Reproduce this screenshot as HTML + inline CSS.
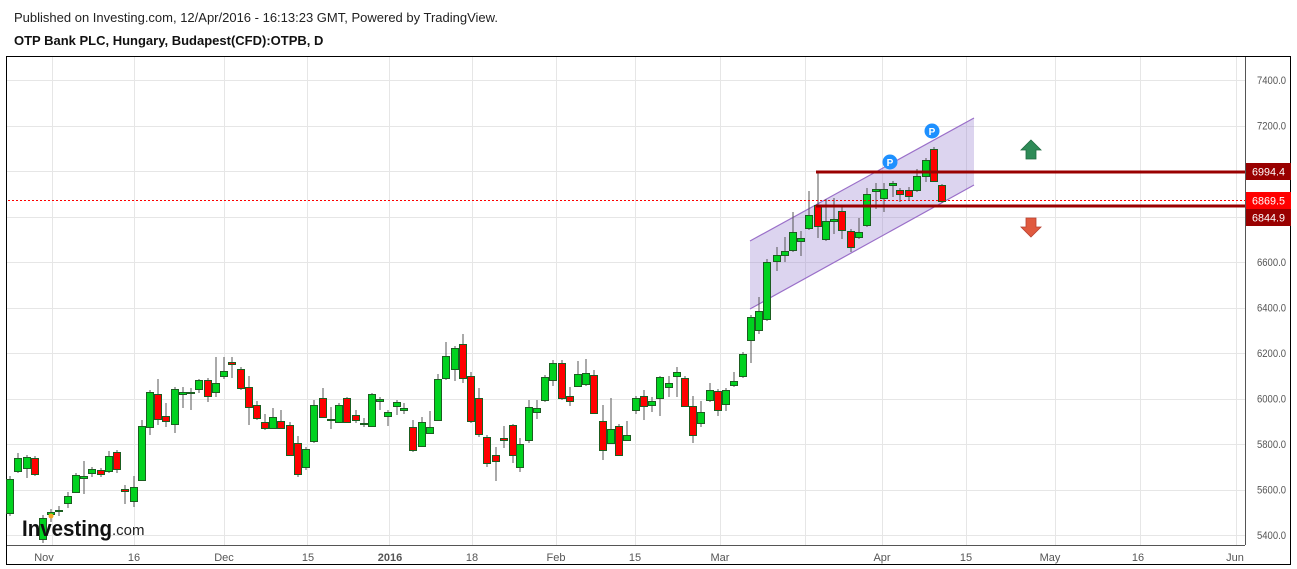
<!DOCTYPE html>
<html><head><meta charset="utf-8"><style>
html,body{margin:0;padding:0;background:#fff;width:1297px;height:569px;overflow:hidden;font-family:"Liberation Sans",sans-serif}
svg{position:absolute;left:0;top:0}
</style></head><body>
<svg id="s" width="1297" height="569" xmlns="http://www.w3.org/2000/svg" font-family="Liberation Sans, sans-serif">
<text x="14" y="22" font-size="13" fill="#222">Published on Investing.com, 12/Apr/2016 - 16:13:23 GMT, Powered by TradingView.</text>
<text x="14" y="45" font-size="13" font-weight="bold" fill="#111">OTP Bank PLC, Hungary, Budapest(CFD):OTPB, D</text>
<rect x="6.5" y="56.5" width="1284" height="508" fill="#fff" stroke="#000" stroke-width="1"/>
<g id="grid" stroke="#e6e6e6" stroke-width="1"></g>
<g id="chan"></g>
<g id="c"></g>
<g id="ov"></g>
</svg>
<script>
var NS="http://www.w3.org/2000/svg";
function el(p,t,a,txt){var e=document.createElementNS(NS,t);for(var k in a)e.setAttribute(k,a[k]);if(txt!==undefined)e.textContent=txt;document.getElementById(p).appendChild(e);return e;}
function Y(p){return 80+(7400-p)*0.2275;}
var vx=[52,134,224,307,389,472,556,635,720,805,882,966,1055,1140,1236];
vx.forEach(function(x){el('grid','line',{x1:x+.5,y1:57,x2:x+.5,y2:545});});
for(var p=5400;p<=7400;p+=200){var y=Math.round(Y(p))+.5;el('grid','line',{x1:7,y1:y,x2:1245,y2:y});}
el('ov','line',{x1:7,y1:545.5,x2:1245,y2:545.5,stroke:'#555'});
el('ov','line',{x1:1245.5,y1:57,x2:1245.5,y2:545,stroke:'#555'});
var xl=[[44,'Nov'],[134,'16'],[224,'Dec'],[308,'15'],[390,'2016'],[472,'18'],[556,'Feb'],[635,'15'],[720,'Mar'],[882,'Apr'],[966,'15'],[1050,'May'],[1138,'16'],[1235,'Jun']];
el('chan','polygon',{points:'750,309 974,185 974,118 750,241',fill:'rgba(150,125,205,0.33)'});
el('chan','line',{x1:750,y1:241,x2:974,y2:118,stroke:'#9a6fc9','stroke-width':1.2});
el('chan','line',{x1:750,y1:309,x2:974,y2:185,stroke:'#9a6fc9','stroke-width':1.2});
var C=[
[10,479,513,476,516,'g'],[18,458,471,453,473,'g'],[27,457,468,455,478,'g'],[35,458,474,456,476,'r'],[43,518,539,515,543,'g'],
[51,512,514,509,522,'g'],[59,510,511,506,516,'g'],[68,496,503,492,508,'g'],[76,475,492,473,493,'g'],[84,476,478,461,494,'g'],
[92,469,473,467,477,'g'],[101,470,474,468,477,'r'],[109,456,471,451,473,'g'],[117,452,469,450,473,'r'],[125,489,491,485,504,'r'],
[134,487,501,476,507,'g'],[142,426,480,420,481,'g'],[150,392,427,390,435,'g'],[158,394,419,379,425,'r'],[166,416,421,403,427,'r'],
[175,389,424,387,433,'g'],[183,392,394,387,408,'g'],[191,392,393,388,410,'g'],[199,380,389,379,393,'g'],[208,380,396,378,402,'r'],
[216,383,392,357,397,'g'],[224,371,376,357,379,'g'],[232,362,364,357,378,'r'],[241,369,388,367,390,'r'],[249,387,407,376,425,'r'],
[257,405,418,401,420,'r'],[265,422,428,414,430,'r'],[273,417,428,408,429,'g'],[281,421,428,410,429,'r'],[290,425,455,422,456,'r'],
[298,443,474,436,477,'r'],[306,449,467,447,470,'g'],[314,405,441,400,443,'g'],[323,398,417,388,418,'r'],[331,419,420,407,429,'g'],
[339,405,422,403,423,'g'],[347,398,422,397,423,'r'],[356,415,420,410,423,'r'],[364,423,424,418,427,'g'],[372,394,426,393,427,'g'],
[380,399,401,397,410,'g'],[388,412,416,410,426,'g'],[397,402,406,400,415,'g'],
[404,408,410,403,414,'g'],[413,427,450,420,452,'r'],[422,422,446,417,447,'g'],[430,427,433,411,434,'g'],[438,379,420,374,421,'g'],
[446,356,378,342,380,'g'],[455,348,369,346,381,'g'],[463,344,378,334,383,'r'],[471,376,421,372,423,'r'],[479,398,434,388,437,'r'],
[487,437,463,435,467,'r'],[496,455,461,447,481,'r'],[504,438,440,426,448,'r'],[513,425,455,424,463,'r'],[520,444,467,438,472,'g'],
[529,407,440,400,443,'g'],[537,408,412,400,419,'g'],[545,377,400,375,402,'g'],[553,363,380,360,386,'g'],[562,363,398,360,400,'r'],
[570,396,401,387,406,'r'],[578,374,386,361,387,'g'],[586,373,384,359,386,'g'],[594,375,413,370,414,'r'],[603,421,450,405,460,'r'],
[611,429,443,398,444,'g'],[619,426,455,424,456,'r'],[627,435,440,421,441,'g'],[636,398,410,396,414,'g'],[644,396,406,390,420,'r'],
[652,401,405,397,412,'g'],[660,377,398,376,416,'g'],[669,383,387,376,397,'g'],[677,372,376,367,397,'g'],[685,378,406,376,407,'r'],
[693,406,435,396,443,'r'],[701,412,423,401,427,'g'],[710,390,400,383,402,'g'],[718,391,410,389,416,'r'],[726,390,404,388,411,'g'],
[734,381,385,372,387,'g'],[743,354,376,352,378,'g'],[751,317,340,315,363,'g'],[759,311,330,297,334,'g'],
[767,262,319,259,321,'g'],[777,255,261,247,271,'g'],[785,251,255,237,262,'g'],[793,232,250,212,252,'g'],[801,238,241,231,256,'g'],
[809,215,228,191,230,'g'],[818,205,226,172,238,'r'],[826,221,239,199,241,'g'],[834,219,221,198,234,'g'],[842,211,230,206,239,'r'],
[851,231,247,229,252,'r'],[859,232,237,218,239,'g'],[867,194,225,188,227,'g'],[876,189,191,183,209,'g'],[884,189,198,183,212,'g'],
[893,183,185,181,197,'g'],[900,190,194,188,202,'r'],[909,190,196,187,200,'r'],[917,176,190,169,192,'g'],[926,160,176,158,182,'g'],
[934,149,181,147,182,'r'],[942,185,201,184,203,'r']];
C.forEach(function(c){
 el('c','line',{x1:c[0],y1:c[3],x2:c[0],y2:c[4],stroke:'#555','stroke-width':1});
 var h=Math.max(1,c[2]-c[1]);
 el('c','rect',{x:c[0]-3.5,y:c[1]+.5,width:7,height:h,fill:c[5]=='g'?'#00d21f':'#ff0000',stroke:'#1b5e20','stroke-width':1});
});
el('ov','line',{x1:8,y1:200.5,x2:1245,y2:200.5,stroke:'#ff0000','stroke-width':1,'stroke-dasharray':'2,2'});
el('ov','line',{x1:816,y1:172,x2:1245,y2:172,stroke:'#990000','stroke-width':3});
el('ov','line',{x1:816,y1:206,x2:1245,y2:206,stroke:'#990000','stroke-width':3});
for(var p=5400;p<=7400;p+=200){if(p==7000||p==6800)continue;el('ov','text',{x:1257,y:Y(p)+4,'font-size':11,fill:'#555',textLength:29,lengthAdjust:'spacingAndGlyphs'},p.toFixed(1));}
[[163,'#990000','6994.4'],[192,'#ff0000','6869.5'],[209,'#990000','6844.9']].forEach(function(b){
 el('ov','rect',{x:1246,y:b[0],width:45,height:17,fill:b[1]});
 el('ov','text',{x:1252,y:b[0]+12.5,'font-size':11,fill:'#fff',textLength:33,lengthAdjust:'spacingAndGlyphs'},b[2]);
});
xl.forEach(function(l){el('ov','text',{x:l[0],y:561,'font-size':11,fill:'#555','text-anchor':'middle','font-weight':l[1]=='2016'?'bold':'normal'},l[1]);});
[[890,162],[932,131]].forEach(function(m){
 el('ov','circle',{cx:m[0],cy:m[1],r:7.5,fill:'#1e90ff'});
 el('ov','text',{x:m[0],y:m[1]+4,'font-size':10,'font-weight':'bold',fill:'#fff','text-anchor':'middle'},'P');
});
el('ov','polygon',{points:'1031,140 1041,150 1036,150 1036,159 1026,159 1026,150 1021,150',fill:'#2e8b57',stroke:'#1f6b40','stroke-width':0.8});
el('ov','polygon',{points:'1031,237 1041,227 1036,227 1036,218 1026,218 1026,227 1021,227',fill:'#e05a3f',stroke:'#b84030','stroke-width':0.8});
el('ov','text',{x:22,y:536,'font-size':22,'font-weight':'bold',fill:'#111',textLength:90,lengthAdjust:'spacingAndGlyphs'},'Investing');
el('ov','text',{x:112,y:535,'font-size':15,fill:'#222'},'.com');
el('ov','circle',{cx:51,cy:516,r:2.5,fill:'#f5a623'});
</script>
</body></html>
